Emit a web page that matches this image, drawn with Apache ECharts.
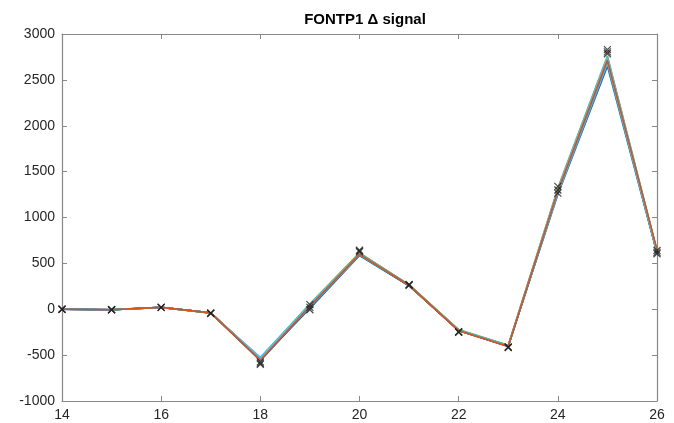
<!DOCTYPE html>
<html><head><meta charset="utf-8">
<script src="https://cdn.jsdelivr.net/npm/echarts@6/dist/echarts.min.js"></script>
<style>html,body{margin:0;padding:0;background:#fff}#c{width:674px;height:423px}</style>
</head><body><div id="c"></div>
<script>
var xValues = [14, 15, 16, 17, 18, 19, 20, 21, 22, 23, 24, 25, 26];
var s1 = [0, -5, 20, -40, -545, 10, 585, 255, -225, -395, 1250, 2650, 610];
var s2 = [0, -5, 20, -42, -530, 50, 600, 265, -235, -400, 1290, 2720, 630];
var s3 = [0, -4, 21, -38, -540, 40, 610, 262, -228, -398, 1300, 2740, 625];
var s4 = [0, -6, 19, -40, -550, 30, 595, 258, -232, -405, 1280, 2700, 615];
var s5 = [0, -5, 20, -39, -535, 60, 615, 268, -222, -392, 1320, 2760, 640];
var s6 = [0, -5, 20, -41, -525, 55, 605, 264, -226, -396, 1310, 2750, 635];
var s7 = [0, -5, 20, -40, -560, 20, 590, 256, -234, -402, 1270, 2690, 620];
var s8 = [0, -5, 19, -40, -540, 25, 592, 260, -230, -400, 1265, 2680, 612];
var s9 = [0, -5, 20, -40, -555, 30, 598, 262, -232, -405, 1285, 2710, 650];
var markLow = [0, -5, 20, -44, -600, -5, 625, 262, -252, -418, 1265, 2785, 605];
var markMid = [0, -5, 20, -44, -590, 20, 635, 266, -248, -414, 1300, 2805, 620];
var markHigh = [0, -5, 20, -44, -575, 50, 645, 270, -244, -410, 1340, 2830, 640];
var titleText = 'FONTP1 \u0394 signal';
var xTicks = {min: 14, max: 26, interval: 2};
var yTicks = {min: -1000, max: 3000, interval: 500};

var colors = ['#0072BD', '#EDB120', '#7E2F8E', '#A2142F', '#77AC30', '#4DBEEE', '#0072BD', '#4DBEEE', '#D95319'];
var lines = [s1, s2, s3, s4, s5, s6, s7, s8, s9];

function pairs(ys) { return xValues.map(function (x, i) { return [x, ys[i]]; }); }

var series = lines.map(function (ys, i) {
  return {type: 'line', data: pairs(ys), showSymbol: false, symbol: 'none',
    lineStyle: {color: colors[i], width: 1.6}, itemStyle: {color: colors[i]}, z: 2 + i, animation: false};
});
[markLow, markMid, markHigh].forEach(function (ys) {
  series.push({type: 'scatter', data: pairs(ys), symbol: 'path://M0,0L10,10M10,0L0,10', symbolSize: 7,
    itemStyle: {color: 'rgba(0,0,0,0)', borderColor: '#222', borderWidth: 1.2}, z: 20, animation: false});
});

var axisLine = {show: true, onZero: false, lineStyle: {color: '#888', width: 1.2}};
var tick = {inside: true, length: 5, lineStyle: {color: '#888'}};
var lbl = {color: '#262626', fontFamily: 'Liberation Sans', fontSize: 14, margin: 7,
  formatter: function (v) { return String(v); }};
var chart = echarts.init(document.getElementById('c'));
chart.setOption({
  animation: false,
  title: {text: titleText, left: 360, top: 7, textAlign: 'center',
    textStyle: {fontFamily: 'Liberation Sans', fontSize: 15, fontWeight: 'bold', color: '#000'}},
  grid: {left: 62, right: 17, top: 34, bottom: 22},
  xAxis: [
    {type: 'value', min: xTicks.min, max: xTicks.max, interval: xTicks.interval, position: 'bottom',
      axisLine: axisLine, axisTick: tick, axisLabel: lbl, splitLine: {show: false}},
    {type: 'value', min: xTicks.min, max: xTicks.max, interval: xTicks.interval, position: 'top',
      axisLine: axisLine, axisTick: tick, axisLabel: {show: false}, splitLine: {show: false}}
  ],
  yAxis: [
    {type: 'value', min: yTicks.min, max: yTicks.max, interval: yTicks.interval, position: 'left',
      axisLine: axisLine, axisTick: tick, axisLabel: lbl, splitLine: {show: false}},
    {type: 'value', min: yTicks.min, max: yTicks.max, interval: yTicks.interval, position: 'right',
      axisLine: axisLine, axisTick: tick, axisLabel: {show: false}, splitLine: {show: false}}
  ],
  series: series
});
</script>
</body></html>
